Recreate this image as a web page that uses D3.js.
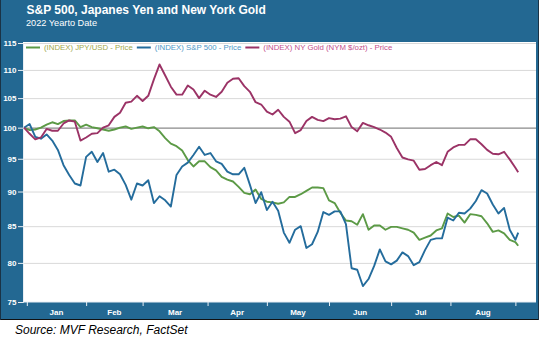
<!DOCTYPE html>
<html>
<head>
<meta charset="utf-8">
<script src="https://cdn.jsdelivr.net/npm/d3@7"></script>
<style>
  body { margin: 0; background: #fff; }
  svg { display: block; font-family: "Liberation Sans", Arial, sans-serif; }
</style>
</head>
<body>
<svg id="chart" width="539" height="340"></svg>
<script>
// sample dates (every 2nd weekday), x axis counts weekdays
const dates = [
  "2021-12-31","2022-01-04","2022-01-06","2022-01-10","2022-01-12","2022-01-14","2022-01-18","2022-01-20","2022-01-24","2022-01-26",
  "2022-01-28","2022-02-01","2022-02-03","2022-02-07","2022-02-09","2022-02-11","2022-02-15","2022-02-17","2022-02-21","2022-02-23",
  "2022-02-25","2022-03-01","2022-03-03","2022-03-07","2022-03-09","2022-03-11","2022-03-15","2022-03-17","2022-03-21","2022-03-23",
  "2022-03-25","2022-03-29","2022-03-31","2022-04-04","2022-04-06","2022-04-08","2022-04-12","2022-04-14","2022-04-18","2022-04-20",
  "2022-04-22","2022-04-26","2022-04-28","2022-05-02","2022-05-04","2022-05-06","2022-05-10","2022-05-12","2022-05-16","2022-05-18",
  "2022-05-20","2022-05-24","2022-05-26","2022-05-30","2022-06-01","2022-06-03","2022-06-07","2022-06-09","2022-06-13","2022-06-15",
  "2022-06-17","2022-06-21","2022-06-23","2022-06-27","2022-06-29","2022-07-01","2022-07-05","2022-07-07","2022-07-11","2022-07-13",
  "2022-07-15","2022-07-19","2022-07-21","2022-07-25","2022-07-27","2022-07-29","2022-08-02","2022-08-04","2022-08-08","2022-08-10",
  "2022-08-12","2022-08-16","2022-08-18","2022-08-22","2022-08-24","2022-08-26","2022-08-30","2022-09-01","2022-09-02"
];

const jpyUsd = [
  100.0, 99.6, 99.7, 100.0, 100.5, 100.9, 100.6, 101.1, 101.2, 101.2,
  100.1, 100.5, 100.1, 99.9, 99.7, 99.5, 99.7, 100.0, 100.2, 99.8,
  100.0, 100.2, 99.9, 100.1, 99.4, 98.3, 97.4, 97.0, 96.3, 94.8,
  93.8, 94.6, 94.6, 93.7, 93.2, 92.2, 91.8, 91.5, 90.7, 89.8,
  89.6, 90.3, 88.9, 88.5, 88.4, 88.2, 88.4, 89.2, 89.2, 89.6,
  90.1, 90.6, 90.6, 90.5, 88.7, 88.3, 86.9, 85.8, 85.7, 85.2,
  86.7, 84.5, 85.1, 85.1, 84.5, 84.9, 84.9, 84.7, 84.5, 84.1,
  83.1, 83.4, 83.7, 84.4, 84.7, 86.8, 86.3, 86.5, 85.5, 86.7,
  86.6, 86.4, 85.4, 84.2, 84.4, 84.0, 83.1, 82.8, 82.3
];

const sp500 = [
  100.0, 100.6, 98.5, 98.2, 98.9, 97.9, 96.4, 94.0, 92.5, 91.2,
  90.9, 95.3, 96.1, 94.5, 95.9, 93.0, 93.3, 92.6, 91.0, 88.8,
  91.2, 90.9, 91.7, 88.3, 89.3, 88.7, 87.8, 92.5, 93.8, 94.4,
  95.6, 96.9, 95.6, 95.9, 94.6, 94.2, 93.0, 92.6, 92.6, 93.6,
  91.0, 88.3, 89.9, 87.3, 88.5, 87.2, 84.1, 82.7, 84.5, 85.0,
  82.0, 82.5, 84.2, 87.0, 86.6, 87.1, 87.1, 85.3, 79.3, 79.1,
  77.0, 77.9, 79.6, 81.8, 80.2, 79.8, 80.3, 81.4, 80.9, 79.7,
  80.1, 81.7, 83.1, 83.3, 83.3, 86.2, 85.8, 86.9, 86.8, 87.5,
  88.6, 90.2, 89.7, 88.1, 86.8, 87.6, 84.5, 83.1, 84.1
];

const nyGold = [
  100.0, 99.0, 98.1, 98.4, 99.8, 99.5, 99.5, 100.7, 101.2, 101.0,
  97.9, 98.4, 99.0, 99.1, 100.0, 100.4, 101.8, 102.5, 104.2, 104.4,
  105.4, 104.5, 105.4, 108.3, 111.0, 109.0, 107.0, 105.6, 105.6, 107.2,
  106.5, 105.0, 106.3, 105.6, 105.2, 106.1, 107.7, 108.4, 108.5, 107.1,
  106.1, 104.3, 103.9, 102.7, 102.2, 103.0, 101.8, 101.0, 99.1, 99.6,
  101.1, 101.8, 101.3, 101.1, 101.6, 101.4, 101.5, 101.9, 100.1, 99.4,
  100.8, 100.4, 100.1, 99.7, 99.2, 98.5, 96.7, 95.2, 94.9, 94.7,
  93.3, 93.4, 94.0, 94.5, 94.0, 96.1, 96.8, 97.2, 97.2, 98.1,
  98.1, 97.3, 96.4, 95.8, 95.7, 96.1, 94.9, 93.6, 92.9
];

const seriesNames = ["(INDEX) JPY/USD - Price", "(INDEX) S&P 500 - Price", "(INDEX) NY Gold (NYM $/ozt) - Price"];
const seriesColors = ["#5c9a46", "#246c9c", "#9b3366"];
const legendColors = ["#a0a84c", "#4f97c6", "#c4508c"];

const yTicks = [75, 80, 85, 90, 95, 100, 105, 110, 115];
const monthStarts = ["2022-01-03","2022-02-01","2022-03-01","2022-04-01","2022-05-02","2022-06-01","2022-07-01","2022-08-01","2022-09-01"];
const monthLabels = ["Jan","Feb","Mar","Apr","May","Jun","Jul","Aug"];

// ---- layout
var W = 539,
    plotL = 23, plotR = 536, plotT = 42, plotB = 302,
    frameColor = "#236892";

var svg = d3.select("#chart");
var parse = d3.timeParse("%Y-%m-%d");
var base = new Date(2021, 11, 31);

//count weekdays after base
function wdIndex(s){
    var d = parse(s);
    return d3.timeDay.range(d3.timeDay.offset(base, 1), d3.timeDay.offset(d, 1))
             .filter(t => t.getDay() % 6 !== 0).length;
}
var idx = dates.map(wdIndex);

var x = d3.scaleLinear().domain([0, 181.3]).range([24, plotR]);
var y = d3.scaleLog().domain([75, 115]).range([plotB, 43]);

// frame
svg.append("rect").attr("width", W).attr("height", 320).attr("fill", frameColor);
svg.append("line").attr("x1", 0).attr("x2", W).attr("y1", 319.5).attr("y2", 319.5)
   .attr("stroke", "#111").attr("stroke-width", 1);
svg.append("line").attr("x1", 0.5).attr("x2", 0.5).attr("y1", 0).attr("y2", 320)
   .attr("stroke", "#1a3346");
svg.append("line").attr("x1", 538.5).attr("x2", 538.5).attr("y1", 0).attr("y2", 320)
   .attr("stroke", "#1a3346");

svg.append("text").attr("x", 26.5).attr("y", 13.5)
   .attr("fill", "#fff").attr("font-size", 12).attr("font-weight", "bold")
   .text("S&P 500, Japanes Yen and New York Gold");
svg.append("text").attr("x", 26).attr("y", 26)
   .attr("fill", "#fff").attr("font-size", 9.2)
   .text("2022 Yearto Date");

svg.append("rect").attr("x", plotL).attr("y", plotT)
   .attr("width", plotR - plotL).attr("height", plotB - plotT).attr("fill", "#fff");

// grid
svg.append("g").attr("transform", "translate(" + plotL + ",0)")
   .call(d3.axisLeft(y).tickValues(yTicks.filter(v => v > 75)).tickSize(-(plotR - plotL)).tickFormat(""))
   .call(g => g.select(".domain").remove())
   .call(g => g.selectAll(".tick line")
       .attr("stroke", d => d === 100 ? "#8a8a8a" : "#d9d9d9")
       .attr("stroke-width", d => d === 100 ? 1.2 : 1));

// y axis
svg.append("g").attr("transform", "translate(" + plotL + ",0)")
   .call(d3.axisLeft(y).tickValues(yTicks).tickSize(5).tickPadding(1.5).tickFormat(d3.format("d")))
   .call(g => g.select(".domain").attr("stroke", "#e8eef4"))
   .call(g => g.selectAll(".tick line").attr("stroke", "#e8eef4"))
   .call(g => g.selectAll(".tick text").attr("fill", "#fff").attr("font-size", 8)
       .attr("font-weight", "bold").attr("font-family", "Liberation Sans, Arial, sans-serif"));

// x axis: ticks at month starts, labels centered in each month
var mIdx = monthStarts.map(wdIndex);
svg.append("g").attr("transform", "translate(0," + plotB + ")")
   .call(d3.axisBottom(x).tickValues(mIdx).tickSize(4).tickFormat(""))
   .call(g => g.select(".domain").attr("stroke", "#e8eef4").attr("d", "M" + plotL + ",0H" + plotR))
   .call(g => g.selectAll(".tick line").attr("stroke", "#e8eef4"));
svg.append("g").selectAll("text")
   .data(monthLabels)
   .enter().append("text")
   .attr("x", (d, i) => x((mIdx[i] + mIdx[i + 1]) / 2))
   .attr("y", 315)
   .attr("text-anchor", "middle")
   .attr("fill", "#fff").attr("font-size", 8).attr("font-weight", "bold")
   .text(d => d);

// lines
svg.append("clipPath").attr("id", "plotClip")
   .append("rect").attr("x", plotL).attr("y", plotT).attr("width", plotR - plotL).attr("height", plotB - plotT);

var line = d3.line().x((d, i) => x(idx[i])).y(d => y(d));
[jpyUsd, sp500, nyGold].forEach(function(vals, s){
    svg.append("path")
       .attr("clip-path", "url(#plotClip)")
       .attr("d", line(vals))
       .attr("fill", "none")
       .attr("stroke", seriesColors[s])
       .attr("stroke-width", 1.9)
       .attr("stroke-linejoin", "round");
});

// legend
var lx = 26;
seriesNames.forEach(function(name, s){
    svg.append("line").attr("x1", lx).attr("x2", lx + 14).attr("y1", 47.5).attr("y2", 47.5)
       .attr("stroke", seriesColors[s]).attr("stroke-width", 2);
    var t = svg.append("text").attr("x", lx + 18).attr("y", 50.3)
       .attr("fill", legendColors[s]).attr("font-size", 7.8)
       .text(name);
    lx = lx + 18 + t.node().getComputedTextLength() + 4;
});

// source
svg.append("text").attr("x", 15).attr("y", 334)
   .attr("fill", "#000").attr("font-size", 12).attr("font-style", "italic")
   .text("Source: MVF Research, FactSet");
</script>
</body>
</html>
